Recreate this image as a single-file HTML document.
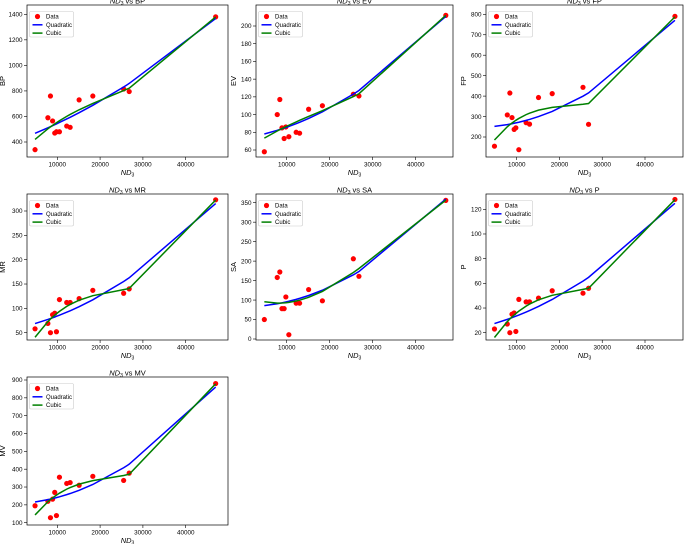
<!DOCTYPE html>
<html><head><meta charset="utf-8">
<style>
html,body{margin:0;padding:0;background:#fff;}
svg{display:block;font-family:"Liberation Sans",sans-serif;}
</style></head>
<body>
<svg id="fig" width="685" height="544" viewBox="0 0 685 544" xmlns="http://www.w3.org/2000/svg"></svg>
<script>
const ndX = [4800, 7800, 8400, 8900, 9400, 9800, 10500, 12200, 13000, 15100, 18300, 25500, 26800, 47000];
const bpVals = [340, 590, 760, 565, 470, 480, 480, 525, 515, 730, 760, 815, 795, 1380];
const evVals = [58, 100, 117, 85, 73, 86, 75, 80, 79, 106, 110, 123, 121, 212];
const fpVals = [155, 308, 415, 295, 237, 245, 138, 270, 263, 393, 412, 443, 262, 790];
const mrVals = [58, 69, 50, 87, 90, 52, 118, 112, 112, 120, 137, 131, 140, 323];
const saVals = [50, 158, 172, 78, 78, 108, 11, 92, 92, 127, 98, 206, 161, 356];
const pVals = [23, 27, 20, 35, 36, 21, 47, 45, 45, 48, 54, 52, 56, 128];
const mvVals = [195, 220, 128, 232, 270, 140, 355, 320, 325, 310, 360, 337, 378, 880];
const xTicks = [10000, 20000, 30000, 40000];
const bpTicks = [400, 600, 800, 1000, 1200, 1400];
const evTicks = [60, 80, 100, 120, 140, 160, 180, 200];
const fpTicks = [200, 300, 400, 500, 600, 700, 800];
const mrTicks = [50, 100, 150, 200, 250, 300];
const saTicks = [0, 50, 100, 150, 200, 250, 300, 350];
const pTicks = [20, 40, 60, 80, 100, 120];
const mvTicks = [100, 200, 300, 400, 500, 600, 700, 800, 900];

const NS = "http://www.w3.org/2000/svg";
const fig = document.getElementById('fig');
function mk(tag, attrs, parent){
  const e = document.createElementNS(NS, tag);
  for (const k in attrs) e.setAttribute(k, attrs[k]);
  (parent||fig).appendChild(e);
  return e;
}
function polyfit(xs, ys, deg){
  const n = deg+1;
  const A = [], b = [];
  for (let i=0;i<n;i++){ A.push(new Array(n).fill(0)); b.push(0); }
  xs.forEach((x0,k)=>{
    const x = x0/1e4;
    for (let i=0;i<n;i++){
      b[i] += ys[k]*Math.pow(x,i);
      for (let j=0;j<n;j++) A[i][j] += Math.pow(x,i+j);
    }
  });
  for (let i=0;i<n;i++){
    let p=i; for (let r=i+1;r<n;r++) if (Math.abs(A[r][i])>Math.abs(A[p][i])) p=r;
    [A[i],A[p]]=[A[p],A[i]]; [b[i],b[p]]=[b[p],b[i]];
    for (let r=i+1;r<n;r++){ const f=A[r][i]/A[i][i]; for (let c=i;c<n;c++) A[r][c]-=f*A[i][c]; b[r]-=f*b[i]; }
  }
  const c = new Array(n).fill(0);
  for (let i=n-1;i>=0;i--){ let s=b[i]; for (let j=i+1;j<n;j++) s-=A[i][j]*c[j]; c[i]=s/A[i][i]; }
  return x => { const t=x/1e4; let s=0; for (let i=0;i<n;i++) s+=c[i]*Math.pow(t,i); return s; };
}

const panels = [
  {name:'bp', label:'BP', vals:bpVals, ticks:bpTicks, box:[27,5,228,157], xa:[57.3,185.7], ya:[400,142,1400,14.3]},
  {name:'ev', label:'EV', vals:evVals, ticks:evTicks, box:[256,5,453,157], xa:[286.7,415.7], ya:[60,150,200,26]},
  {name:'fp', label:'FP', vals:fpVals, ticks:fpTicks, box:[486,5,683,157], xa:[516.7,645], ya:[200,137,800,14.3]},
  {name:'mr', label:'MR', vals:mrVals, ticks:mrTicks, box:[27,194,228,340], xa:[57.3,185.7], ya:[50,332.7,300,211]},
  {name:'sa', label:'SA', vals:saVals, ticks:saTicks, box:[256,194,453,340], xa:[286.7,415.7], ya:[0,339,350,202.7]},
  {name:'p', label:'P', vals:pVals, ticks:pTicks, box:[486,194,683,340], xa:[516.7,645], ya:[20,332.7,120,209.3]},
  {name:'mv', label:'MV', vals:mvVals, ticks:mvTicks, box:[27,377,228,525], xa:[57.3,185.7], ya:[100,522.7,900,380]}
];

panels.forEach(P=>{
  const [l,t,r,btm] = P.box;
  const g = mk('g', {});
  
  
  const sx = v => P.xa[0] + (v-10000)*(P.xa[1]-P.xa[0])/30000;
  const sy = v => P.ya[1] + (v-P.ya[0])*(P.ya[3]-P.ya[1])/(P.ya[2]-P.ya[0]);
  const clipId = 'clip-'+P.name;
  const cp = mk('clipPath', {id:clipId}, g);
  mk('rect', {x:l, y:t, width:r-l, height:btm-t}, cp);

  xTicks.forEach(v=>{
    const x = sx(v);
    mk('line', {x1:x, x2:x, y1:btm, y2:btm+3, stroke:'#000', 'stroke-width':0.6}, g);
    const tx = mk('text', {x:x, y:btm+9.5, 'font-size':6.3, 'text-anchor':'middle', fill:'#000'}, g);
    tx.textContent = v;
    
    
  });
  P.ticks.forEach(v=>{
    const y = sy(v);
    mk('line', {x1:l-3, x2:l, y1:y, y2:y, stroke:'#000', 'stroke-width':0.6}, g);
    const ty = mk('text', {x:l-4.5, y:y+2.2, 'font-size':6.3, 'text-anchor':'end', fill:'#000'}, g);
    ty.textContent = v;
    
    
  });

  const q = polyfit(ndX, P.vals, 2), c = polyfit(ndX, P.vals, 3);
  const idx = ndX.map((v,i)=>i).sort((a,b)=>ndX[a]-ndX[b]);
  const lineOf = f => idx.map(i=>sx(ndX[i]).toFixed(2)+','+sy(f(ndX[i])).toFixed(2)).join(' ');
  const plotG = mk('g', {'clip-path':'url(#'+clipId+')'}, g);
  P.vals.forEach((v,i)=>{
    const dot = mk('circle', {cx:sx(ndX[i]), cy:sy(v), r:2.6, fill:'#ff0000'}, plotG);
    
    
  });
  const ql = mk('polyline', {points:lineOf(q), fill:'none', stroke:'#0000ff', 'stroke-width':1.5}, plotG);
  
  
  const cl = mk('polyline', {points:lineOf(c), fill:'none', stroke:'#008000', 'stroke-width':1.5}, plotG);
  
  

  const fr = mk('rect', {x:l, y:t, width:r-l, height:btm-t, fill:'none', stroke:'#000', 'stroke-width':0.7}, g);
  
  

  const ti = mk('text', {x:(l+r)/2, y:t-1.5, 'font-size':7.5, 'text-anchor':'middle', fill:'#000'}, g);
  ti.innerHTML = '<tspan font-style="italic">ND</tspan><tspan font-size="5" dy="1.5">3</tspan><tspan dy="-1.5"> vs '+P.label+'</tspan>';
  
  

  const xl = mk('text', {x:(l+r)/2, y:btm+18, 'font-size':7.5, 'text-anchor':'middle', fill:'#000'}, g);
  xl.innerHTML = '<tspan font-style="italic">ND</tspan><tspan font-size="5" dy="1.5">3</tspan>';
  
  

  const yx = l - (P.name==='bp'||P.name==='mr'||P.name==='mv' ? 22 : 20);
  const yl = mk('text', {x:yx, y:(t+btm)/2, 'font-size':7.5, 'text-anchor':'middle', fill:'#000', transform:'rotate(-90 '+yx+' '+((t+btm)/2)+')'}, g);
  yl.textContent = P.label;
  
  

  const lg = mk('g', {}, g);
  
  
  const lx = l+2.5, ly = t+6.5;
  mk('rect', {x:lx, y:ly, width:44, height:25.5, fill:'#fff', stroke:'#ccc', 'stroke-width':0.6, rx:1.5}, lg);
  const items = [['Data','dot','#ff0000'],['Quadratic','line','#0000ff'],['Cubic','line','#008000']];
  items.forEach((it,k)=>{
    const yy = ly+5 + k*8.3;
    if (it[1]==='dot') mk('circle', {cx:lx+8, cy:yy, r:2.6, fill:it[2]}, lg);
    else mk('line', {x1:lx+3, x2:lx+13, y1:yy, y2:yy, stroke:it[2], 'stroke-width':1.5}, lg);
    const tt = mk('text', {x:lx+16.5, y:yy+2, 'font-size':6, fill:'#000'}, lg);
    tt.textContent = it[0];
    
    
  });
});
</script>
</body></html>
